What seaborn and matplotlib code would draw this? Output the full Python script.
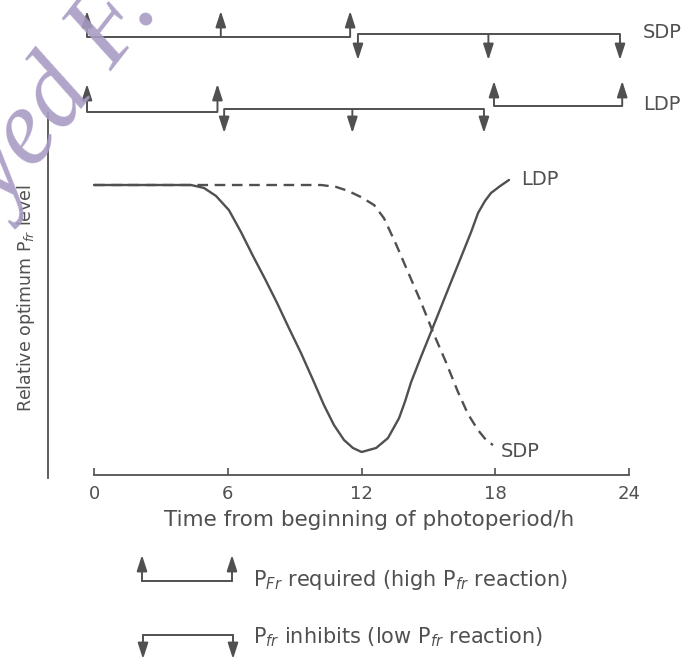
import matplotlib
matplotlib.use("Agg")
import numpy as np
import pandas as pd
import matplotlib.pyplot as plt
import seaborn as sns

# Relative optimum Pfr level (0 = low, 1 = high) against time from start of photoperiod (h)
ldp_time = [0.0, 4.35, 4.93, 5.47, 6.05, 6.59, 7.13, 7.67, 8.21, 8.74,
            9.28, 9.82, 10.31, 10.76, 11.21, 11.61, 12.0, 12.65, 13.18, 13.68,
            13.95, 14.22, 14.66, 15.11, 15.56, 16.01, 16.46, 16.91, 17.22, 17.53,
            17.80, 18.21, 18.61]
ldp_level = [1.0, 1.0, 0.989, 0.959, 0.906, 0.824, 0.734, 0.648, 0.558, 0.464,
             0.371, 0.270, 0.176, 0.101, 0.045, 0.015, 0.0, 0.015, 0.052, 0.127,
             0.19, 0.262, 0.356, 0.449, 0.543, 0.637, 0.730, 0.824, 0.895, 0.940,
             0.970, 0.996, 1.019]
sdp_time = [0.0, 10.18, 10.85, 11.39, 11.97, 12.56, 13.0, 13.54, 14.08, 14.66,
            15.20, 15.78, 16.32, 16.77, 17.22, 17.58, 17.89]
sdp_level = [1.0, 1.0, 0.993, 0.978, 0.955, 0.925, 0.876, 0.779, 0.674, 0.562,
             0.449, 0.337, 0.225, 0.142, 0.082, 0.045, 0.026]

x_ticks = [0, 6, 12, 18, 24]

# arrow positions (h) of the brackets above the plot
sdp_required = [0, 6, 11.8]
sdp_inhibits = [12.15, 18, 23.9]
ldp_required_a = [0, 5.85]
ldp_inhibits = [6.15, 11.9, 17.8]
ldp_required_b = [18.25, 24]

INK = "#505050"
W, H = 688, 666

sns.set_theme(style="ticks")
plt.rcParams["font.family"] = ["DejaVu Sans"]

fig = plt.figure(figsize=(W / 100, H / 100), dpi=100)


def px_axes(x0, y0, x1, y1):
    return fig.add_axes([x0 / W, 1 - y1 / H, (x1 - x0) / W, (y1 - y0) / H])


# ---------------- main curves ----------------
ax = px_axes(48, 113, 660, 478)
df = pd.concat([
    pd.DataFrame({"time": ldp_time, "level": ldp_level, "plant": "LDP"}),
    pd.DataFrame({"time": sdp_time, "level": sdp_level, "plant": "SDP"}),
], ignore_index=True)
sns.lineplot(data=df, x="time", y="level", style="plant",
             dashes={"LDP": "", "SDP": (4.5, 2.8)}, color=INK, lw=1.7,
             sort=False, estimator=None, legend=False, ax=ax)

ax.set_xlim(-2.063, 25.38)
ax.set_ylim(-0.0974, 1.2697)
for s in ["top", "right"]:
    ax.spines[s].set_visible(False)
ax.spines["bottom"].set_position(("data", -0.086))
ax.spines["bottom"].set_bounds(0, 24)
for s in ["bottom", "left"]:
    ax.spines[s].set_color(INK)
    ax.spines[s].set_linewidth(1.3)
ax.set_xticks(x_ticks)
ax.set_xticklabels([str(t) for t in x_ticks])
ax.set_yticks([])
ax.tick_params(axis="x", direction="in", length=5, width=1.2, color=INK,
               labelcolor=INK, labelsize=13, pad=7)

ax.text(19.15, 1.02, "LDP", fontsize=14, color=INK, ha="left", va="center")
ax.text(18.25, 0.0, "SDP", fontsize=14, color=INK, ha="left", va="center")

ax.set_xlabel("Time from beginning of photoperiod/h", fontsize=15.5, color=INK)
ax.xaxis.set_label_coords(0.5245, -0.088)
ax.set_ylabel("Relative optimum P$_{\\it fr}$ level", fontsize=12.5, color=INK)
ax.yaxis.set_label_coords(-0.018, 0.493)

# ---------------- brackets above ----------------
top = px_axes(48, 0, 660, 150)
top.set_xlim(-1.749, 25.695)
top.set_ylim(150, 0)
top.axis("off")

ARROW = dict(arrowstyle="-|>,head_length=0.8,head_width=0.26", color=INK,
             lw=1.4, shrinkA=0, shrinkB=0)


def bracket(axis, times, y_line, y_tip):
    axis.plot([times[0], times[-1]], [y_line, y_line], color=INK, lw=1.4,
              solid_capstyle="butt")
    for t in times:
        axis.annotate("", xy=(t, y_tip), xytext=(t, y_line), arrowprops=ARROW)


bracket(top, sdp_required, 37, 11)
bracket(top, sdp_inhibits, 34, 60)
bracket(top, ldp_required_a, 112, 84)
bracket(top, ldp_inhibits, 109, 133)
bracket(top, ldp_required_b, 106, 81)
top.text(24.9, 32, "SDP", fontsize=14, color=INK, ha="left", va="center")
top.text(24.95, 104, "LDP", fontsize=14, color=INK, ha="left", va="center")

# ---------------- key below ----------------
ov = fig.add_axes([0, 0, 1, 1])
ov.set_xlim(0, W)
ov.set_ylim(H, 0)
ov.axis("off")


def key_bracket(x0, x1, y_line, y_tip):
    ov.plot([x0, x1], [y_line, y_line], color=INK, lw=1.4)
    for x in (x0, x1):
        ov.annotate("", xy=(x, y_tip), xytext=(x, y_line), arrowprops=ARROW)


key_bracket(142, 232, 581, 555)
key_bracket(143, 233, 635, 659)
ov.text(253, 580, "P$_{\\it Fr}$ required (high P$_{\\it fr}$ reaction)",
        fontsize=15, color=INK, ha="left", va="center")
ov.text(253, 637, "P$_{\\it fr}$ inhibits (low P$_{\\it fr}$ reaction)",
        fontsize=15, color=INK, ha="left", va="center")

# watermark of the scanned page
ov.text(160, 9, "Syed F.", rotation=52, rotation_mode="anchor", ha="right",
        va="baseline", fontsize=77, family="Liberation Serif", style="italic",
        color="#a89bc4", alpha=0.9, zorder=10)

fig.savefig("out.png", dpi=100)
